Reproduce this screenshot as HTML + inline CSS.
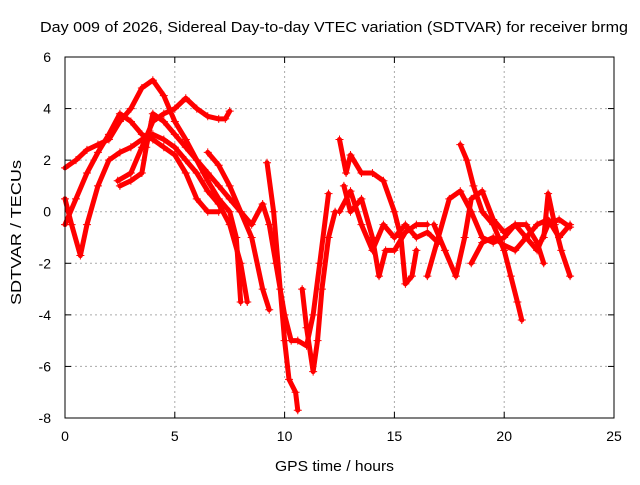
<!DOCTYPE html>
<html><head><meta charset="utf-8"><style>
body{margin:0;background:#fff;}
svg text{font-family:"Liberation Sans",sans-serif;font-size:14px;fill:#000;}
</style></head><body>
<svg id="chart" width="640" height="480">
<text x="40" y="32" textLength="588" lengthAdjust="spacingAndGlyphs" style="font-size:15px">Day 009 of 2026, Sidereal Day-to-day VTEC variation (SDTVAR) for receiver brmg</text>
<text x="275" y="471" textLength="119" lengthAdjust="spacingAndGlyphs" style="font-size:15px">GPS time / hours</text>
<text transform="translate(21,305) rotate(-90)" textLength="145" lengthAdjust="spacingAndGlyphs" style="font-size:15px">SDTVAR / TECUs</text>
<g id="grid"></g><g id="series"></g>
<rect x="65" y="57" width="549" height="361" fill="none" stroke="#000"/>
</svg>
<script>
const xTicks=[0,5,10,15,20,25];
const yTicks=[-8,-6,-4,-2,0,2,4,6];
const arcs=[
[[0,1.7],[0.5,2],[1,2.4],[1.5,2.6],[2,2.8],[2.5,3.5],[3,4],[3.5,4.8],[4,5.1],[4.5,4.5],[5,3.5],[5.5,2.8],[6,2],[6.5,1.2],[7,0.5],[7.5,0],[7.8,-1],[8,-3.5]],
[[0,0.5],[0.3,-0.5],[0.7,-1.7],[1,-0.5],[1.5,1],[2,2],[2.5,2.3],[3,2.5],[3.5,2.8],[4,3],[4.5,2.8],[5,2.5],[5.5,2],[6,1.5],[6.5,0.8],[7,0.3],[7.5,-0.5],[8,-2],[8.3,-3.5]],
[[0,-0.5],[0.5,0.5],[1,1.5],[1.5,2.3],[2,3],[2.5,3.8],[3,3.5],[3.5,3],[4,2.8],[4.5,2.5],[5,2.2],[5.5,1.5],[6,0.5],[6.5,0],[7,0]],
[[2.4,1.2],[3,1.5],[3.5,2.5],[4,3.5],[4.5,3.8],[5,4],[5.5,4.4],[6,4],[6.5,3.7],[7,3.6],[7.3,3.6],[7.5,3.9]],
[[2.5,1],[3,1.2],[3.5,1.5],[3.7,2.5],[4,3.8],[4.5,3.5],[5,3],[5.5,2.5],[6,2],[6.5,1.5],[7,1],[7.5,0.5],[8,0],[8.5,-1],[9,-3],[9.3,-3.8]],
[[6.5,2.3],[7,1.8],[7.5,1],[8,0],[8.5,-0.5],[9,0.3],[9.3,-0.5],[9.6,-2],[10,-4],[10.3,-5],[10.6,-5],[11,-5.2],[11.3,-4],[11.6,-2],[12,0.7]],
[[9.2,1.9],[9.5,0],[9.8,-3],[10,-5],[10.2,-6.5],[10.5,-7],[10.6,-7.7]],
[[10.8,-3],[11,-4.5],[11.3,-6.2],[11.5,-5],[11.7,-3],[12,-1],[12.3,0]],
[[12.5,2.8],[12.8,1.5],[13,2.2],[13.5,1.5],[14,1.5],[14.5,1.2],[15,0],[15.3,-1],[15.5,-2.8],[15.8,-2.5],[16,-1.5]],
[[12.5,0],[13,0.8],[13.5,-0.5],[14,-1.5],[14.5,-0.5],[15,-1],[15.5,-0.5],[16,-1],[16.5,-0.8],[17,-1.2]],
[[12.7,1],[13,0],[13.5,0.5],[14,-1],[14.3,-2.5],[14.6,-1.5],[15,-1.5],[15.5,-0.8],[16,-0.5],[16.5,-0.5]],
[[16.5,-2.5],[17,-1],[17.5,0.5],[18,0.8],[18.5,0],[19,-1],[19.5,-1.2],[20,-1],[20.5,-0.5],[21,-1],[21.5,-1.5],[22,-0.5],[22.5,-0.3],[23,-0.6]],
[[18,2.6],[18.3,2],[18.6,1],[19,0],[19.5,-0.5],[20,-1.5],[20.3,-2.5],[20.6,-3.5],[20.8,-4.2]],
[[16.8,-0.5],[17.3,-1.5],[17.8,-2.5],[18.2,-1],[18.5,0.5],[19,0.8],[19.5,-0.3],[20,-0.8],[20.5,-0.5],[21,-0.5],[21.5,-1.2],[21.8,-2]],
[[21.8,-1],[22,0.7],[22.3,-0.5],[22.6,-1.5],[23,-2.5]],
[[18.5,-2],[19,-1.2],[19.5,-1],[20,-1.3],[20.5,-1.5],[21,-1],[21.5,-0.5],[22,-0.3],[22.5,-1],[23,-0.5]]
];
const NS="http://www.w3.org/2000/svg";
const X0=65,X1=614,Y0=418,Y1=57;
function sx(v){return X0+(v-0)/(25-0)*(X1-X0);}
function sy(v){return Y0-(v+8)/(14)*(Y0-Y1);}
const grid=document.getElementById('grid'),ser=document.getElementById('series'),svg=document.getElementById('chart');
function mk(t,a,p){const e=document.createElementNS(NS,t);for(const k in a)e.setAttribute(k,a[k]);p.appendChild(e);return e;}
xTicks.forEach(v=>{
 if(v>0&&v<25){const g=mk('line',{x1:sx(v),x2:sx(v),y1:Y0,y2:Y1,stroke:'#aaa','stroke-dasharray':'2,3'},grid);
 
 }
 mk('line',{x1:sx(v),x2:sx(v),y1:Y0,y2:Y0-6,stroke:'#000'},grid);
 mk('line',{x1:sx(v),x2:sx(v),y1:Y1,y2:Y1+6,stroke:'#000'},grid);
 const t=mk('text',{x:sx(v),y:Y0+23,'text-anchor':'middle'},svg);t.textContent=v;
 
 
});
yTicks.forEach(v=>{
 if(v>-8&&v<6){const g=mk('line',{x1:X0,x2:X1,y1:sy(v),y2:sy(v),stroke:'#aaa','stroke-dasharray':'2,3'},grid);
 
 }
 mk('line',{x1:X0,x2:X0+6,y1:sy(v),y2:sy(v),stroke:'#000'},grid);
 mk('line',{x1:X1,x2:X1-6,y1:sy(v),y2:sy(v),stroke:'#000'},grid);
 const t=mk('text',{x:X0-14,y:sy(v)+5,'text-anchor':'end'},svg);t.textContent=v;
 
 
});
arcs.forEach((arc,i)=>{
 const pl=mk('polyline',{points:arc.map(p=>sx(p[0])+','+sy(p[1])).join(' '),fill:'none',stroke:'#f00','stroke-width':5,'stroke-linejoin':'round','stroke-linecap':'round'},ser);
 
 
 arc.forEach(p=>{const x=sx(p[0]),y=sy(p[1]);
  mk('path',{d:`M${x-4},${y}H${x+4}M${x},${y-4}V${y+4}`,stroke:'#f00','stroke-width':1},ser);});
});
</script>
</body></html>
